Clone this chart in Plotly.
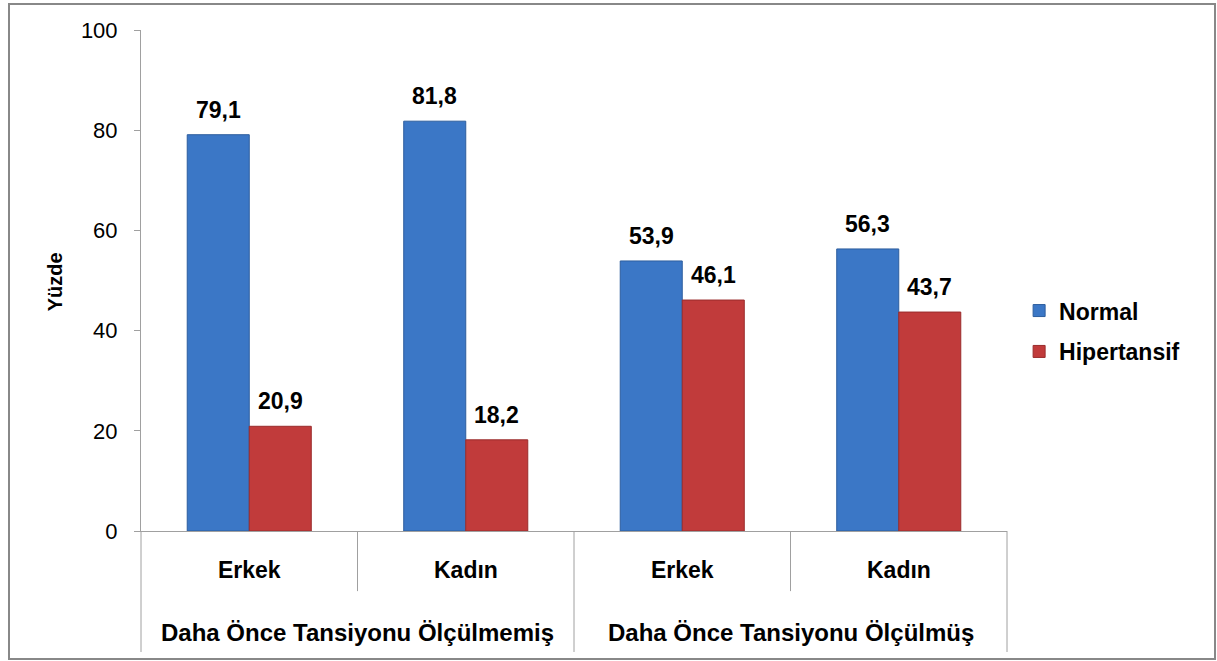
import plotly.graph_objects as go

groups = ["Daha Önce Tansiyonu Ölçülmemiş", "Daha Önce Tansiyonu Ölçülmüş"]
subcats = ["Erkek", "Kadın", "Erkek", "Kadın"]
sub_group = [0, 0, 1, 1]
normal = [79.1, 81.8, 53.9, 56.3]
hipertansif = [20.9, 18.2, 46.1, 43.7]
series_names = ["Normal", "Hipertansif"]
y_ticks = [0, 20, 40, 60, 80, 100]
y_title = "Yüzde"

FONT = "Arial, Liberation Sans, sans-serif"
LBL = 23
pos = [i + 0.5 for i in range(len(subcats))]
BARGAP = 0.427
half = (1 - BARGAP) / 4  # offset of each bar center from category center

fig = go.Figure()
fig.add_trace(go.Bar(
    x=pos, y=normal, name=series_names[0], legendgroup="a",
    marker=dict(color="#3B77C6", line=dict(color="#2D5E9E", width=1)),
))
fig.add_trace(go.Bar(
    x=pos, y=hipertansif, name=series_names[1], legendgroup="b",
    marker=dict(color="#C13B3B", line=dict(color="#9A2C2C", width=1)),
))

anns = []
for series, sign in ((normal, -1), (hipertansif, 1)):
    for p, v in zip(pos, series):
        anns.append(dict(x=p + sign * half, y=v, xref="x", yref="y",
                         text=f"{v:.1f}".replace(".", ","), showarrow=False,
                         yanchor="bottom", yshift=10,
                         font=dict(family=FONT, size=LBL, color="#000", weight="bold")))
for p, s in zip(pos, subcats):
    anns.append(dict(x=p, y=-0.078, xref="x", yref="paper", text=s, showarrow=False,
                     font=dict(family=FONT, size=LBL, color="#000", weight="bold"),
                     yanchor="middle"))
for gi, g in enumerate(groups):
    members = [p for p, k in zip(pos, sub_group) if k == gi]
    cx = sum(members) / len(members)
    anns.append(dict(x=cx, y=-0.2016, xref="x", yref="paper", text=g, showarrow=False,
                     font=dict(family=FONT, size=24, color="#000", weight="bold"),
                     yanchor="middle"))
anns.append(dict(x=-0.114, y=0.497, xref="paper", yref="paper", text=y_title, showarrow=False,
                 textangle=-90, font=dict(family=FONT, size=20, color="#000", weight="bold")))

shapes = []
line_c = "#A0A0A0"
for i in range(1, len(subcats)):
    y1 = -0.12 if sub_group[i] == sub_group[i - 1] else -0.2415
    shapes.append(dict(type="line", xref="x", yref="paper", x0=i, x1=i, y0=0, y1=y1,
                       line=dict(color=line_c, width=1)))
for xe in (0, 1):
    shapes.append(dict(type="line", xref="paper", yref="paper", x0=xe, x1=xe, y0=0, y1=-0.2415,
                       line=dict(color=line_c, width=1)))
# outer frame
shapes.append(dict(type="rect", xref="paper", yref="paper",
                   x0=(9 - 141) / 866, x1=(1215 - 141) / 866,
                   y0=(531 - 659) / 501, y1=(531 - 4) / 501,
                   line=dict(color="#888888", width=2)))

fig.update_layout(
    width=1217, height=661,
    margin=dict(l=141, r=210, t=30, b=130),
    paper_bgcolor="white", plot_bgcolor="white",
    separators=",.",
    barmode="group", bargap=BARGAP, bargroupgap=0,
    font=dict(family=FONT, size=LBL, color="#000"),
    xaxis=dict(range=[0, len(subcats)], showticklabels=False, ticks="", showgrid=False,
               zeroline=False, showline=True, linecolor=line_c, linewidth=1, fixedrange=True),
    yaxis=dict(range=[0, 100], tickvals=y_ticks, ticks="outside", ticklen=6, tickcolor=line_c,
               showline=True, linecolor=line_c, linewidth=1, showgrid=False, zeroline=False,
               tickfont=dict(family=FONT, size=22, color="#000"), ticklabelstandoff=12),
    legend=dict(x=1.014, y=0.399, xanchor="left", yanchor="middle",
                font=dict(family=FONT, size=LBL, color="#000", weight="bold"),
                tracegroupgap=8, itemwidth=30, bgcolor="rgba(0,0,0,0)"),
    annotations=anns, shapes=shapes,
)

fig.write_html("out.html", config={"displayModeBar": False},
               post_script="document.body.style.margin='0';")
